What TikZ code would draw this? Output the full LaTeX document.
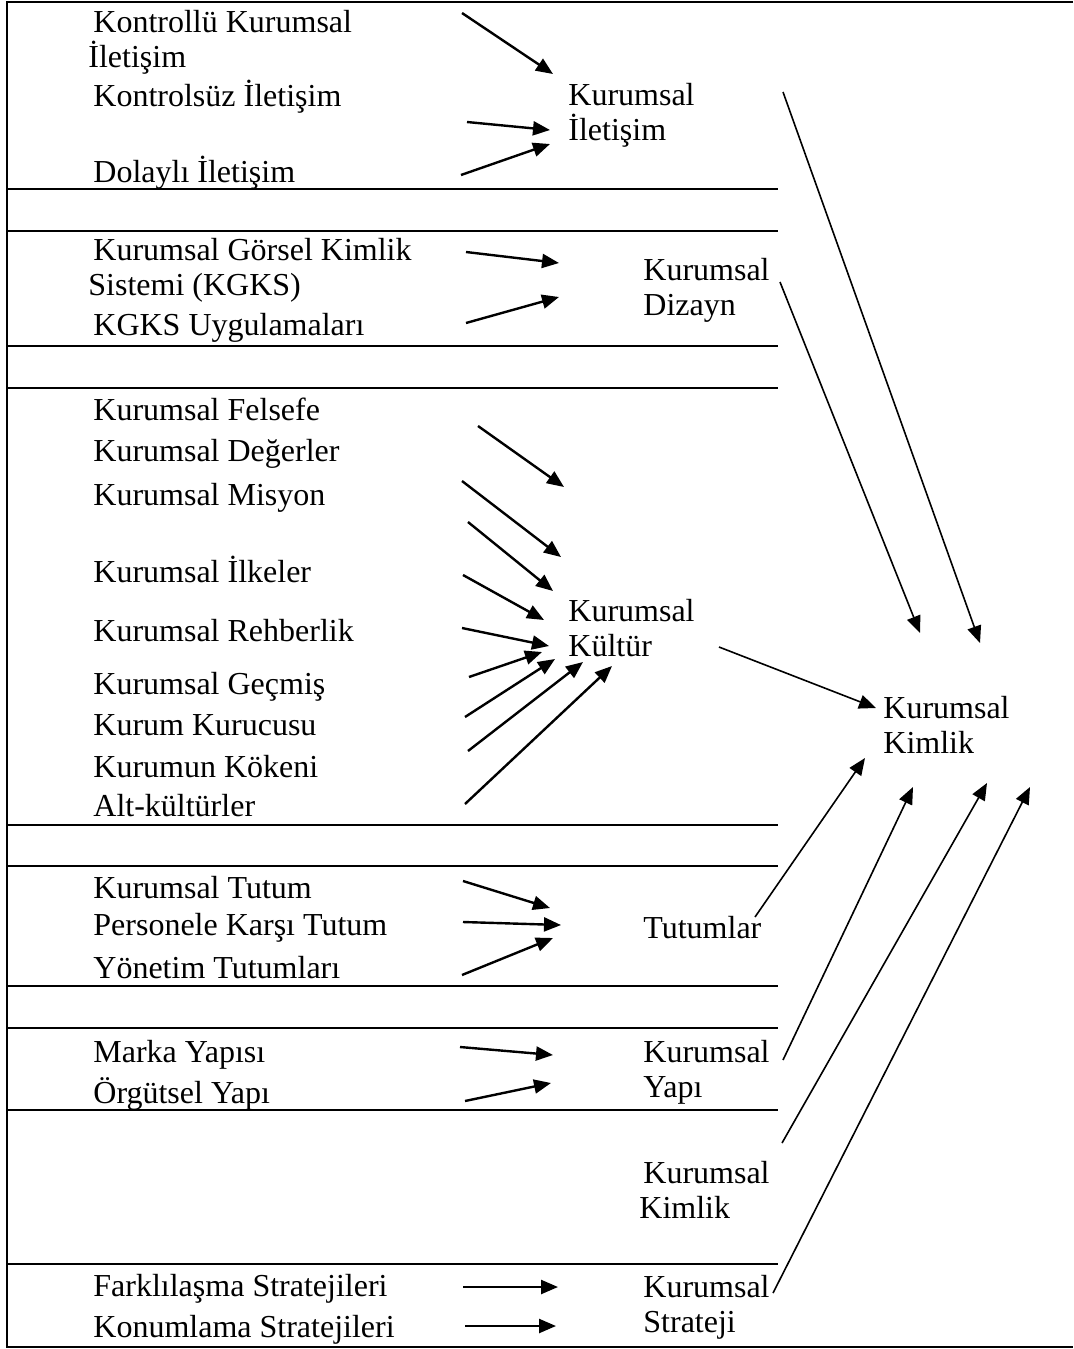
\documentclass[tikz,border=0pt]{standalone}
\usepackage{fontspec}
\setmainfont{Liberation Serif}
\usetikzlibrary{arrows.meta, positioning}

\tikzset{
  item/.style={anchor=west, inner sep=0pt, font=\fontsize{16}{17.5}\selectfont,
               text height=11pt, text depth=3.5pt},
  group/.style={anchor=west, inner sep=0pt, align=left,
                font=\fontsize{16}{17.5}\selectfont},
  feed/.style={-{Triangle[length=8.5pt,width=7pt]}, line width=1.2pt},
  link/.style={-{Triangle[length=8.5pt,width=7pt]}, line width=0.8pt},
  sepline/.style={line width=1.1pt},
}

\begin{document}
\begin{tikzpicture}[x=0.5pt, y=-0.5pt]
  \useasboundingbox (0,0) rectangle (1073,1349);

  % frame
  \draw[sepline] (1073,2) -- (7,2) -- (7,1347) -- (1073,1347);
  \foreach \ly in {189,231,346,388,825,866,986,1028,1110,1264}
    \draw[sepline] (7,\ly) -- (778,\ly);

  % Kurumsal Iletisim
  \node[group] (kontrollu) at (93,42) {Kontrollü Kurumsal\\\hspace*{-2.5pt}İletişim};
  \node[item] (kontrolsuz) at (93,99) {Kontrolsüz İletişim};
  \node[item] (dolayli) at (93,175) {Dolaylı İletişim};
  \node[group] (iletisim) at (568,115) {Kurumsal\\İletişim};

  % Kurumsal Dizayn
  \node[group] (gorsel) at (93,270) {Kurumsal Görsel Kimlik\\\hspace*{-2.5pt}Sistemi (KGKS)};
  \node[item] (kgksuyg) at (93,328) {KGKS Uygulamaları};
  \node[group] (dizayn) at (643,290) {Kurumsal\\Dizayn};

  % Kurumsal Kultur
  \node[item] (felsefe) at (93,413) {Kurumsal Felsefe};
  \node[item] (degerler) at (93,454) {Kurumsal Değerler};
  \node[item] (misyon) at (93,498) {Kurumsal Misyon};
  \node[item] (ilkeler) at (93,575) {Kurumsal İlkeler};
  \node[item] (rehberlik) at (93,634) {Kurumsal Rehberlik};
  \node[item] (gecmis) at (93,687) {Kurumsal Geçmiş};
  \node[item] (kurucu) at (93,728) {Kurum Kurucusu};
  \node[item] (koken) at (93,770) {Kurumun Kökeni};
  \node[item] (altkultur) at (93,809) {Alt-kültürler};
  \node[group] (kultur) at (568,628) {Kurumsal\\Kültür};

  % Kurumsal Kimlik
  \node[group] (kimlik) at (883,725) {Kurumsal\\Kimlik};

  % Tutumlar
  \node[item] (tutum) at (93,891) {Kurumsal Tutum};
  \node[item] (personel) at (93,928) {Personele Karşı Tutum};
  \node[item] (yonetim) at (93,971) {Yönetim Tutumları};
  \node[item] (tutumlar) at (643,931) {Tutumlar};

  % Kurumsal Yapi
  \node[item] (marka) at (93,1055) {Marka Yapısı};
  \node[item] (orgutsel) at (93,1096) {Örgütsel Yapı};
  \node[group] (yapi) at (643,1072) {Kurumsal\\Yapı};

  \node[group] (kimlikalt) at (643,1190) {Kurumsal\\\hspace*{-2pt}Kimlik};

  % Kurumsal Strateji
  \node[item] (farkli) at (93,1289) {Farklılaşma Stratejileri};
  \node[item] (konum) at (93,1330) {Konumlama Stratejileri};
  \node[group] (strateji) at (643,1307) {Kurumsal\\Strateji};

  % short arrows into the groups
  \foreach \n/\sx/\sy/\ex/\ey in {
      1/462/13/553/74, 2/467/122/550/130, 3/461/175/550/144,
      4/466/252/559/263, 5/466/323/559/297,
      6/478/426/564/487, 7/462/481/561/557, 8/468/522/553/591,
      9/463/575/544/620, 10/462/628/549/646, 11/469/677/542/652,
      12/465/717/555/659, 13/468/751/583/662, 14/465/804/612/666,
      15/463/881/550/908, 16/463/922/561/925, 17/462/975/553/938,
      18/460/1047/553/1055, 19/465/1101/551/1083,
      20/463/1287/558/1287, 21/465/1326/556/1326} {
    \coordinate (s\n) at (\sx,\sy);
    \coordinate (e\n) at (\ex,\ey);
    \draw[feed] (s\n) -- (e\n);
  }

  % long arrows into Kurumsal Kimlik
  \coordinate (iletisim-out) at (783,92);
  \coordinate (dizayn-out) at (780,282);
  \coordinate (kultur-out) at (719,647);
  \coordinate (tutumlar-out) at (755,917);
  \coordinate (yapi-out) at (783,1060);
  \coordinate (kimlikalt-out) at (782,1143);
  \coordinate (strateji-out) at (773,1293);
  \coordinate (in1) at (980,643);
  \coordinate (in2) at (920,633);
  \coordinate (in3) at (876,708);
  \coordinate (in4) at (865,758);
  \coordinate (in5) at (913,787);
  \coordinate (in6) at (987,783);
  \coordinate (in7) at (1030,787);
  \draw[link] (iletisim-out) -- (in1);
  \draw[link] (dizayn-out) -- (in2);
  \draw[link] (kultur-out) -- (in3);
  \draw[link] (tutumlar-out) -- (in4);
  \draw[link] (yapi-out) -- (in5);
  \draw[link] (kimlikalt-out) -- (in6);
  \draw[link] (strateji-out) -- (in7);
\end{tikzpicture}
\end{document}
